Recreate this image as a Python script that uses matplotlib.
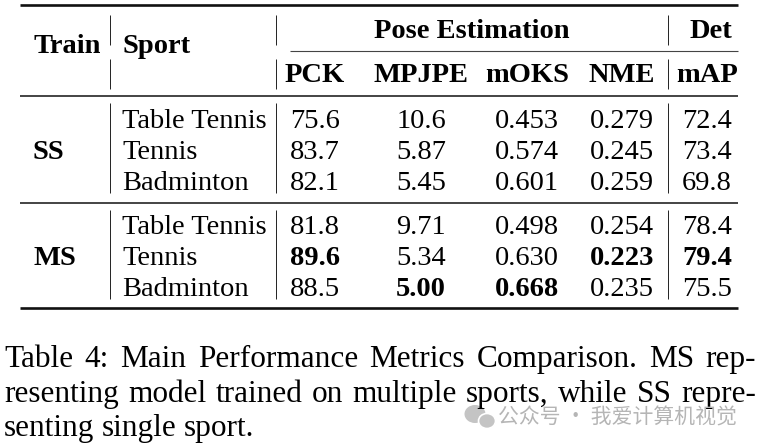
import matplotlib
matplotlib.use('Agg')
import matplotlib.pyplot as plt
from matplotlib.patches import Ellipse

plt.rcParams['font.family'] = ['Liberation Serif', 'DejaVu Serif']

# table data
trainings = ['SS', 'MS']
sports = ['Table Tennis', 'Tennis', 'Badminton']
metrics = ['PCK', 'MPJPE', 'mOKS', 'NME', 'mAP']
higher_better = [True, False, True, False, True]
pck = [['75.6', '83.7', '82.1'], ['81.8', '89.6', '88.5']]
mpjpe = [['10.6', '5.87', '5.45'], ['9.71', '5.34', '5.00']]
moks = [['0.453', '0.574', '0.601'], ['0.498', '0.630', '0.668']]
nme = [['0.279', '0.245', '0.259'], ['0.254', '0.223', '0.235']]
det_map = [['72.4', '73.4', '69.8'], ['78.4', '79.4', '75.5']]
columns = [pck, mpjpe, moks, nme, det_map]

caption_lines = [
    'Table 4: Main Performance Metrics Comparison. MS rep-',
    'resenting model trained on multiple sports, while SS repre-',
    'senting single sport.',
]
watermark = '公众号 · 我爱计算机视觉'

W, H = 763, 448
fig = plt.figure(figsize=(W / 100, H / 100), dpi=100)
ax = fig.add_axes([0, 0, 1, 1])
ax.set_xlim(0, W)
ax.set_ylim(H, 0)
ax.axis('off')

FS = 20.5
col_x = [315, 421, 527, 622, 707]
row_base = [[128, 159, 190], [234, 265, 296]]
x_left, x_right = 20, 738

# rules
ax.hlines(5, x_left, x_right, color='#111111', lw=1.9)
ax.hlines(51, 290, x_right, color='#444444', lw=0.8)
ax.hlines(96, x_left, x_right, color='#111111', lw=1.1)
ax.hlines(203, x_left, x_right, color='#111111', lw=1.1)
ax.hlines(308, x_left, x_right, color='#111111', lw=1.9)

# vertical separators
for x in [110, 276, 668]:
    ax.vlines(x, 15, 45, color='#222222', lw=0.7)
    ax.vlines(x, 59, 89, color='#222222', lw=0.7)
    ax.vlines(x, 103, 193, color='#222222', lw=0.7)
    ax.vlines(x, 210, 299, color='#222222', lw=0.7)

# header
ax.text(33, 53, 'Train', fontsize=FS, weight='bold', va='baseline')
ax.text(122, 53, 'Sport', fontsize=FS, weight='bold', va='baseline')
ax.text(472, 38, 'Pose Estimation', fontsize=FS, weight='bold', va='baseline', ha='center')
ax.text(711, 38, 'Det', fontsize=FS, weight='bold', va='baseline', ha='center')
for x, m in zip(col_x, metrics):
    ax.text(x, 82, m, fontsize=FS, weight='bold', va='baseline', ha='center')

# best values per column
best = []
for vals, hb in zip(columns, higher_better):
    flat = [float(v) for block in vals for v in block]
    best.append(max(flat) if hb else min(flat))

# body
for b, tr in enumerate(trainings):
    ax.text(33, row_base[b][1], tr, fontsize=FS, weight='bold', va='baseline')
    for r, sp in enumerate(sports):
        y = row_base[b][r]
        ax.text(122, y, sp, fontsize=FS, va='baseline')
        for c, vals in enumerate(columns):
            v = vals[b][r]
            ax.text(col_x[c], y, v, fontsize=FS, va='baseline', ha='center',
                    weight='bold' if float(v) == best[c] else 'normal')

# caption, justified
CFS = 22.5
cap_base = [367, 402, 436]
fig.canvas.draw()
renderer = fig.canvas.get_renderer()
for i, line in enumerate(caption_lines):
    words = line.split(' ')
    texts = [ax.text(0, cap_base[i], w, fontsize=CFS, va='baseline') for w in words]
    widths = [t.get_window_extent(renderer).width for t in texts]
    if i < len(caption_lines) - 1:
        gap = (756 - 4 - sum(widths)) / (len(words) - 1)
    else:
        gap = 7.5
    x = 4
    for t, w in zip(texts, widths):
        t.set_x(x)
        x += w + gap

# watermark
ax.add_patch(Ellipse((475, 414), 21, 18, color='#c4c4c4', lw=0))
ax.add_patch(Ellipse((487, 421), 17, 15, facecolor='#c4c4c4', edgecolor='white', lw=1.2))
ax.text(498, 418, watermark, fontsize=15, color='#b5b5b5', va='center',
        family=['Noto Sans CJK SC', 'DejaVu Sans'])

fig.savefig('out.png', dpi=100)
